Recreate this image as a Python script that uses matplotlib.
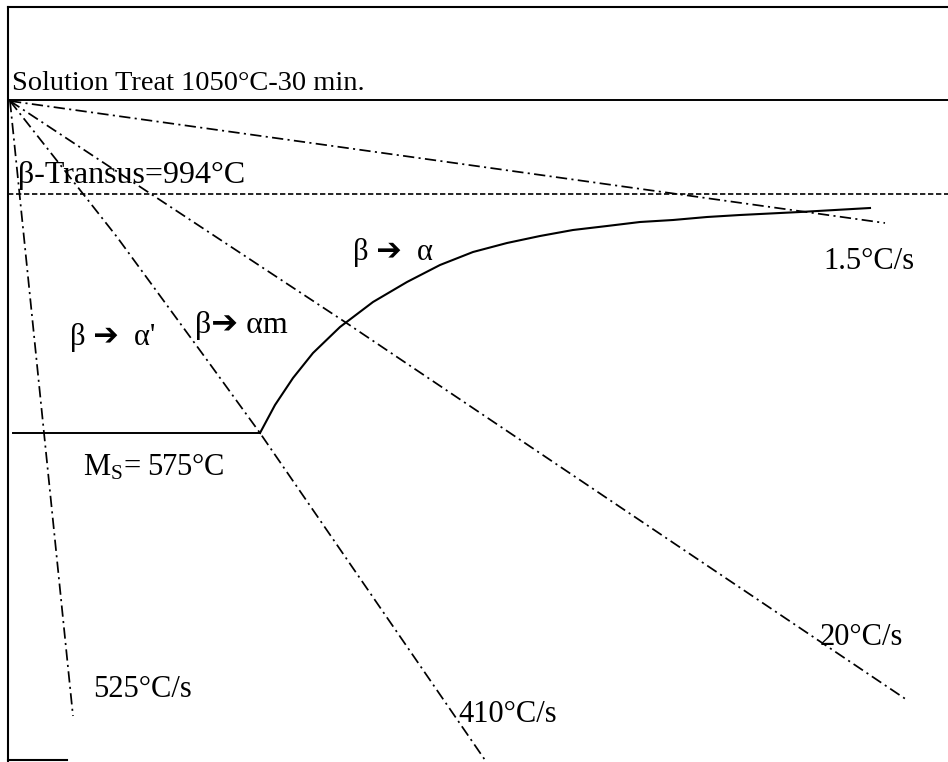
import matplotlib
matplotlib.use("Agg")
import matplotlib.pyplot as plt

plt.rcParams['font.family'] = ['Liberation Serif', 'DejaVu Sans']
plt.rcParams['mathtext.fontset'] = 'custom'
plt.rcParams['mathtext.rm'] = 'Liberation Serif'
plt.rcParams['mathtext.it'] = 'Liberation Serif:italic'

# Schematic CCT diagram (arbitrary schematic units: x = time, y = depth below top)
# cooling curves (x, y points)
cool_525_x = [10, 73]
cool_525_y = [101, 716]
cool_410_x = [10, 117, 207, 260, 485]
cool_410_y = [101, 237, 360, 433, 760]
cool_20_x = [10, 345, 907]
cool_20_y = [101, 322, 700]
cool_15_x = [10, 885]
cool_15_y = [101, 223]

# beta -> alpha start curve
curve_x = [260, 275, 293, 313, 340, 373, 407, 440, 473, 507, 540, 573, 607, 640, 673, 707, 740, 800, 870]
curve_y = [433, 405, 378, 353, 327, 302, 282, 265, 252, 243, 236, 230, 226, 222, 220, 217, 215, 212, 208]

# horizontal levels
solution_y = 100
transus_y = 194
ms_y = 433
ms_x = [13, 260]

fig = plt.figure(figsize=(9.48, 7.62), dpi=100)
ax = fig.add_axes([0, 0, 1, 1])
ax.set_xlim(0, 948)
ax.set_ylim(762, 0)
ax.axis('off')

lw_box = 1.5
# frame
ax.plot([8, 948], [7, 7], color='black', lw=lw_box)
ax.plot([8, 8], [7, 761], color='black', lw=lw_box)
ax.plot([8, 67], [760, 760], color='black', lw=lw_box)

# solution treat line
ax.plot([8, 948], [solution_y, solution_y], color='black', lw=1.4)
# beta transus dashed
ax.plot([8, 948], [transus_y, transus_y], color='black', lw=1.2, dashes=(3.2, 1.6))
# Ms line
ax.plot(ms_x, [ms_y, ms_y], color='black', lw=1.4)

dd = (6.5, 2.5, 1.2, 2.5)
for xs, ys in [(cool_525_x, cool_525_y), (cool_410_x, cool_410_y),
               (cool_20_x, cool_20_y), (cool_15_x, cool_15_y)]:
    ax.plot(xs, ys, color='black', lw=1.25, dashes=dd)

ax.plot(curve_x, curve_y, color='black', lw=1.5)

fs = 22
ax.text(12, 90, "Solution Treat 1050°C-30 min.", fontsize=20.5, va='baseline', ha='left')
ax.text(18, 183, "β-Transus=994°C", fontsize=23, va='baseline', ha='left')
ax.text(353, 260, "β ➔  α", fontsize=fs, va='baseline', ha='left')
ax.text(823, 269, "1.5°C/s", fontsize=fs, va='baseline', ha='left')
ax.text(70, 345, "β ➔  α'", fontsize=fs, va='baseline', ha='left')
ax.text(195, 333, "β➔ αm", fontsize=23, va='baseline', ha='left')
ax.text(83, 475, r"M$_\mathregular{S}$= 575°C", fontsize=fs, va='baseline', ha='left')
ax.text(93, 697, "525°C/s", fontsize=fs, va='baseline', ha='left')
ax.text(458, 722, "410°C/s", fontsize=fs, va='baseline', ha='left')
ax.text(820, 645, "20°C/s", fontsize=fs, va='baseline', ha='left')

fig.savefig("out.png", dpi=100, facecolor='white')
